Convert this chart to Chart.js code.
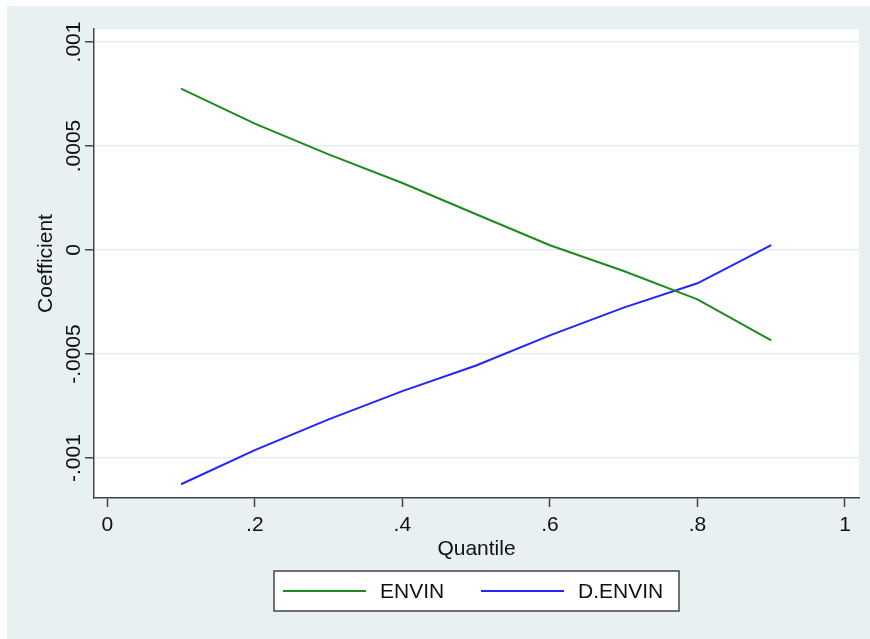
<!DOCTYPE html>
<html>
<head>
<meta charset="utf-8">
<title>Quantile coefficients</title>
<script src="https://cdn.jsdelivr.net/npm/chart.js@4"></script>
<style>
  html, body { margin: 0; padding: 0; background: #fff; }
  #wrap { position: relative; width: 870px; height: 639px; }
</style>
</head>
<body>
<div id="wrap"><canvas id="quantileChart" width="870" height="639"></canvas></div>
<script>
// ============================
// DATA
// ============================
const quantiles = [0.1, 0.2, 0.3, 0.4, 0.5, 0.6, 0.7, 0.8, 0.9];
const envinCoef = [0.000776, 0.000608, 0.00046, 0.000322, 0.000172, 0.000023, -0.000101, -0.000237, -0.000434];
const denvinCoef = [-0.001126, -0.000962, -0.000814, -0.000678, -0.000555, -0.00041, -0.000277, -0.00016, 0.000024];

const xTickValues = [0, 0.2, 0.4, 0.6, 0.8, 1];
const xTickLabels = ["0", ".2", ".4", ".6", ".8", "1"];
const yTickValues = [-0.001, -0.0005, 0, 0.0005, 0.001];
const yTickLabels = ["-.001", "-.0005", "0", ".0005", ".001"];

const seriesNames = ["ENVIN", "D.ENVIN"];
const seriesColors = ["#1e8a1e", "#2424ff"];
const xTitle = "Quantile";
const yTitle = "Coefficient";

// ============================
// STYLE
// ============================
const FONT = "'Liberation Sans', Arial, sans-serif";
const FONT_SIZE = 21;
const BG = "#e8f0f2";
const GRID = "#e6eef1";
const AXIS = "#444";

// ============================
// PLUGIN: stata-like frame, rotated y labels, titles, legend
// ============================
const stataLook = {
  id: "stataLook",
  beforeDraw(chart) {
    const { ctx, chartArea, width, height } = chart;
    ctx.save();
    ctx.fillStyle = "#fff";
    ctx.fillRect(0, 0, width, height);
    ctx.fillStyle = BG;
    ctx.fillRect(7, 6, width - 7, height - 6);
    ctx.fillStyle = "#fff";
    ctx.fillRect(chartArea.left, chartArea.top,
      chartArea.right - chartArea.left, chartArea.bottom - chartArea.top);
    ctx.restore();
  },
  afterDraw(chart) {
    const { ctx, chartArea } = chart;
    const yScale = chart.scales.y;
    ctx.save();
    ctx.fillStyle = "#111";
    ctx.font = FONT_SIZE + "px " + FONT;

    // y tick labels, rotated like stata
    ctx.textAlign = "center";
    ctx.textBaseline = "alphabetic";
    yScale.ticks.forEach((tick, i) => {
      const py = yScale.getPixelForValue(tick.value);
      ctx.save();
      ctx.translate(80, py);
      ctx.rotate(-Math.PI / 2);
      ctx.fillText(yTickLabels[i], 0, 0);
      ctx.restore();
    });

    // y title
    const midY = (chartArea.top + chartArea.bottom) / 2;
    ctx.save();
    ctx.translate(52, midY);
    ctx.rotate(-Math.PI / 2);
    ctx.fillText(yTitle, 0, 0);
    ctx.restore();

    // x title
    const midX = (chartArea.left + chartArea.right) / 2;
    ctx.fillText(xTitle, midX, 555);

    // legend box
    const boxLeft = 274, boxTop = 571, boxW = 405, boxH = 40;
    ctx.fillStyle = "#fff";
    ctx.fillRect(boxLeft, boxTop, boxW, boxH);
    ctx.strokeStyle = AXIS;
    ctx.lineWidth = 1.5;
    ctx.strokeRect(boxLeft, boxTop, boxW, boxH);

    const itemX = [283, 481];
    const lineY = boxTop + boxH / 2;
    ctx.textAlign = "left";
    ctx.textBaseline = "middle";
    chart.data.datasets.forEach((ds, i) => {
      ctx.strokeStyle = ds.borderColor;
      ctx.lineWidth = 2;
      ctx.beginPath();
      ctx.moveTo(itemX[i], lineY);
      ctx.lineTo(itemX[i] + 83, lineY);
      ctx.stroke();
      ctx.fillStyle = "#111";
      ctx.fillText(ds.label, itemX[i] + 97, lineY + 1);
    });
    ctx.restore();
  }
};

// ============================
// CHART
// ============================
const ctx = document.getElementById("quantileChart").getContext("2d");

new Chart(ctx, {
  type: "line",
  data: {
    datasets: [
      {
        label: seriesNames[0],
        data: quantiles.map((q, i) => ({ x: q, y: envinCoef[i] })),
        borderColor: seriesColors[0],
        borderWidth: 2,
        pointRadius: 0,
        tension: 0
      },
      {
        label: seriesNames[1],
        data: quantiles.map((q, i) => ({ x: q, y: denvinCoef[i] })),
        borderColor: seriesColors[1],
        borderWidth: 2,
        pointRadius: 0,
        tension: 0
      }
    ]
  },
  options: {
    responsive: false,
    animation: false,
    devicePixelRatio: 1,
    layout: {
      padding: { left: 0, top: 29, right: 11, bottom: 0 }
    },
    plugins: {
      legend: { display: false },
      tooltip: { enabled: false }
    },
    scales: {
      x: {
        type: "linear",
        min: -0.018,
        max: 1.019,
        afterBuildTicks: scale => {
          scale.ticks = xTickValues.map(v => ({ value: v }));
        },
        afterFit: scale => { scale.height = 141; },
        ticks: {
          color: "#111",
          font: { family: FONT, size: FONT_SIZE },
          padding: 6,
          maxRotation: 0,
          callback: (value, index) => xTickLabels[index]
        },
        grid: {
          drawOnChartArea: false,
          drawTicks: true,
          tickLength: 9,
          tickColor: AXIS,
          tickWidth: 1.5
        },
        border: { display: true, color: AXIS, width: 1.5 }
      },
      y: {
        type: "linear",
        min: -0.001192,
        max: 0.0010625,
        afterBuildTicks: scale => {
          scale.ticks = yTickValues.map(v => ({ value: v }));
        },
        afterFit: scale => { scale.width = 94; },
        ticks: { display: false },
        grid: {
          color: GRID,
          lineWidth: 1.5,
          drawTicks: true,
          tickLength: 9,
          tickColor: AXIS,
          tickWidth: 1.5
        },
        border: { display: true, color: AXIS, width: 1.5 }
      }
    }
  },
  plugins: [stataLook]
});
</script>
</body>
</html>
